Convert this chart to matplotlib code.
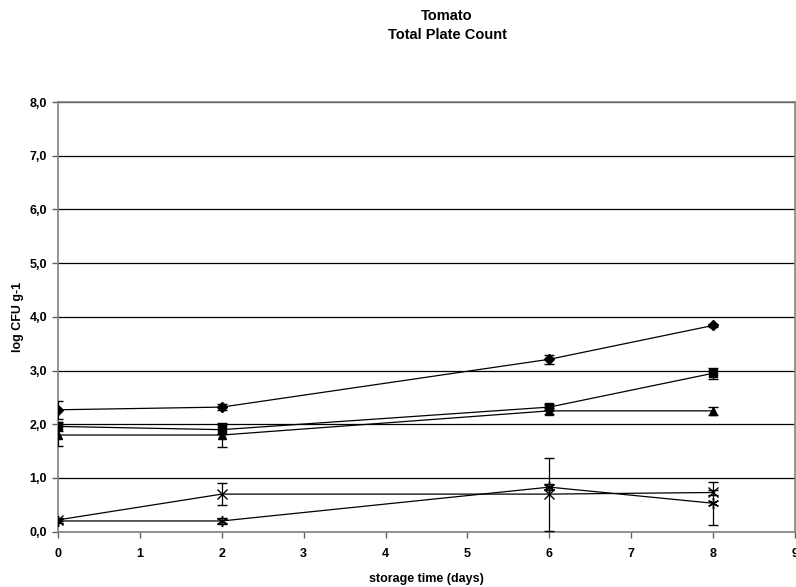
import matplotlib
matplotlib.use("Agg")
import matplotlib.pyplot as plt
from matplotlib.ticker import FuncFormatter

plt.rcParams['font.family'] = ['Liberation Sans', 'DejaVu Sans']

# storage days
days = [0, 2, 6, 8]

# log CFU g-1 per treatment, with standard deviations
diamond = [2.27, 2.32, 3.21, 3.84]
diamond_err = [0.17, 0.06, 0.08, 0.03]
square = [1.96, 1.90, 2.32, 2.95]
square_err = [0.08, 0.08, 0.05, 0.10]
triangle = [1.80, 1.80, 2.25, 2.25]
triangle_err = [0.20, 0.22, 0.06, 0.08]
cross = [0.22, 0.70, 0.70, 0.73]
cross_err = [0.03, 0.21, 0.68, 0.05]
star = [0.20, 0.20, 0.83, 0.53]
star_err = [0.03, 0.05, 0.05, 0.40]

title_lines = ["Tomato", "Total Plate Count"]
x_label = "storage time (days)"
y_label = "log CFU g-1"
x_ticks = list(range(0, 10))
y_ticks = [0, 1, 2, 3, 4, 5, 6, 7, 8]

fig = plt.figure(figsize=(7.96, 5.87), dpi=100)
ax = fig.add_axes([0.0729, 0.0942, 0.9258, 0.732])

series = [
    (diamond, diamond_err, 'D', 5, True),
    (square, square_err, 's', 6, True),
    (triangle, triangle_err, '^', 6, True),
    (cross, cross_err, 'x', 7, False),
    (star, star_err, (6, 2, 0), 8, False),
]
for vals, err, mk, ms, filled in series:
    ax.errorbar(days, vals, yerr=err, color='black', lw=0.9,
                marker=mk, markersize=ms, markerfacecolor='black',
                markeredgecolor='black', markeredgewidth=1.0,
                ecolor='black', elinewidth=0.9, capsize=3.5, capthick=0.9,
                zorder=3)

ax.set_xlim(0, 9)
ax.set_ylim(0, 8)
ax.set_xticks(x_ticks)
ax.set_yticks(y_ticks)
ax.yaxis.set_major_formatter(FuncFormatter(lambda v, p: f"{v:.1f}".replace('.', ',')))
ax.grid(axis='y', color='black', lw=0.9, zorder=1)
ax.set_axisbelow(True)
for s in ax.spines.values():
    s.set_color('#808080')
    s.set_linewidth(1.2)
ax.tick_params(axis='both', direction='out', length=4, width=1, color='#606060',
               labelsize=9)
ax.tick_params(axis='x', pad=8)
ax.tick_params(axis='y', pad=4)
for lab in ax.get_xticklabels() + ax.get_yticklabels():
    lab.set_fontweight('bold')

ax.set_xlabel(x_label, fontsize=9, fontweight='bold', labelpad=9)
ax.set_ylabel(y_label, fontsize=9, fontweight='bold', labelpad=4)

fig.text(0.5616, 0.973, title_lines[0], ha='center', va='center',
         fontsize=10.5, fontweight='bold')
fig.text(0.5616, 0.941, title_lines[1], ha='center', va='center',
         fontsize=10.5, fontweight='bold')

fig.savefig("out.png", dpi=100)
